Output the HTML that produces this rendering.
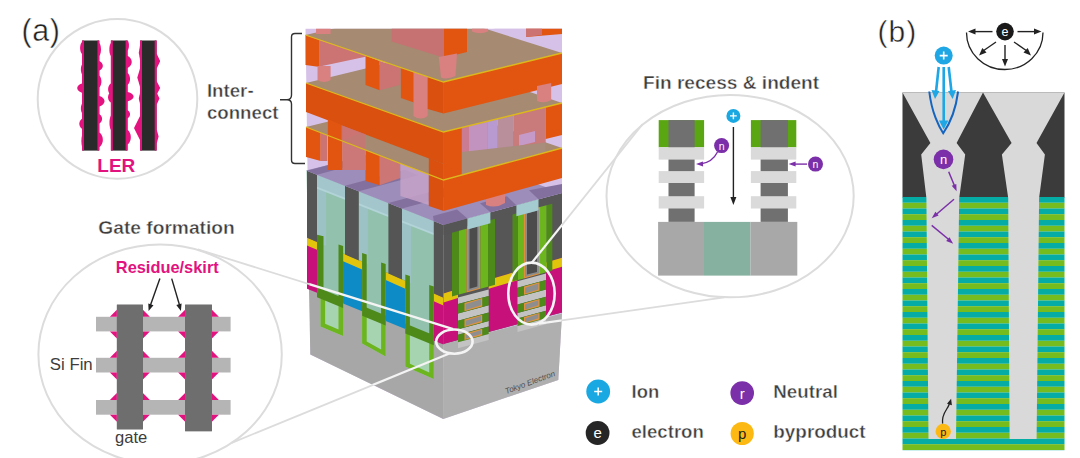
<!DOCTYPE html>
<html><head><meta charset="utf-8"><style>
html,body{margin:0;padding:0;background:#fff;}
svg{display:block;font-family:"Liberation Sans",sans-serif;}
</style></head><body>
<svg width="1080" height="458" viewBox="0 0 1080 458">
<rect width="1080" height="458" fill="#fff"/>
<clipPath id="blk"><rect x="300" y="28.8" width="270" height="400"/></clipPath>
<g clip-path="url(#blk)">
<polygon points="305.5,28.0 562.0,28.0 562.0,313.5 558.3,380.0 443.2,419.0 310.3,354.4 310.3,330.0 307.5,170.0" fill="#d6c2e8" />
<polygon points="306.5,170.6 443.5,224.9 443.5,344.0 309.0,289.0" fill="#92c2ae" />
<polygon points="317.0,174.8 326.0,178.3 326.0,245.8 317.0,241.8" fill="#9cc2c6" />
<polygon points="317.0,174.8 345.0,185.8 345.0,198.8 317.0,187.8" fill="#a2c6cc" />
<polygon points="317.0,186.8 345.0,197.8 345.0,199.8 317.0,188.8" fill="#b2d4d8" />
<polygon points="358.8,191.3 367.8,194.9 367.8,264.2 358.8,260.2" fill="#9cc2c6" />
<polygon points="358.8,191.3 388.4,203.0 388.4,216.0 358.8,204.3" fill="#a2c6cc" />
<polygon points="358.8,203.3 388.4,215.0 388.4,217.0 358.8,205.3" fill="#b2d4d8" />
<polygon points="402.0,208.4 411.0,212.0 411.0,283.2 402.0,279.2" fill="#9cc2c6" />
<polygon points="402.0,208.4 433.8,221.0 433.8,234.0 402.0,221.4" fill="#a2c6cc" />
<polygon points="402.0,220.4 433.8,233.0 433.8,235.0 402.0,222.4" fill="#b2d4d8" />
<polygon points="443.5,225.0 562.0,193.0 562.0,312.4 443.5,344.0" fill="#565656" />
<polygon points="309.0,288.5 443.5,343.6 443.3,419.0 310.3,354.4" fill="#a7a7a7" />
<polygon points="443.5,344.0 562.0,313.5 558.3,380.0 443.2,419.0" fill="#afafaf" />
<polygon points="307.0,237.4 317.0,241.8 317.0,292.8 307.0,288.7" fill="#c8107b" />
<polygon points="307.0,237.4 317.0,241.8 317.0,249.8 307.0,245.4" fill="#e2c40c" />
<polygon points="343.1,253.3 362.1,261.6 362.1,311.3 343.1,303.5" fill="#0d8bc6" />
<polygon points="343.1,253.3 362.1,261.6 362.1,269.6 343.1,261.3" fill="#e2c40c" />
<polygon points="385.7,272.0 405.3,280.7 405.3,329.0 385.7,320.9" fill="#0d8bc6" />
<polygon points="385.7,272.0 405.3,280.7 405.3,288.7 385.7,280.0" fill="#e2c40c" />
<polygon points="433.8,293.2 443.5,297.5 443.5,344.6 433.8,340.7" fill="#c8107b" />
<polygon points="433.8,293.2 443.5,297.5 443.5,305.5 433.8,301.2" fill="#e2c40c" />
<clipPath id="belowL"><polygon points="300,284.8 450,346.3 450,430 300,430"/></clipPath>
<clipPath id="aboveL"><polygon points="300,284.8 450,346.3 450,150 300,150"/></clipPath>
<g clip-path="url(#belowL)">
<polygon points="320.5,293.2 343.1,302.5 343.1,335.9 320.5,326.5" fill="#a6d3b0" />
<polygon points="320.5,234.8 325.1,236.3 325.1,323.8 338.5,329.4 338.5,244.6 343.1,246.1 343.1,335.9 320.5,326.5" fill="#6cb51f" />
<polygon points="362.1,310.3 385.7,319.9 385.7,356.6 362.1,343.5" fill="#a6d3b0" />
<polygon points="362.1,253.0 366.7,254.5 366.7,341.5 381.1,349.4 381.1,262.6 385.7,264.1 385.7,356.6 362.1,343.5" fill="#6cb51f" />
<polygon points="405.3,328.0 433.8,339.7 433.8,379.0 405.3,366.4" fill="#a6d3b0" />
<polygon points="405.3,274.4 409.9,275.9 409.9,363.8 429.2,372.4 429.2,285.0 433.8,286.5 433.8,379.0 405.3,366.4" fill="#6cb51f" />
</g>
<g clip-path="url(#aboveL)">
<polygon points="317.0,234.8 323.5,236.3 323.5,323.1 338.5,329.4 338.5,244.6 343.1,246.1 343.1,335.9 317.0,325.0" fill="#4e8a1a" />
<polygon points="362.1,253.0 366.7,254.5 366.7,341.5 381.1,349.4 381.1,262.6 385.7,264.1 385.7,356.6 362.1,343.5" fill="#4e8a1a" />
<polygon points="405.3,274.4 409.9,275.9 409.9,363.8 429.2,372.4 429.2,285.0 433.8,286.5 433.8,379.0 405.3,366.4" fill="#4e8a1a" />
</g>
<polygon points="317.0,287.3 343.1,298.0 343.1,308.0 317.0,297.3" fill="#4e8a1a" />
<polygon points="362.1,305.8 385.7,315.4 385.7,325.4 362.1,315.8" fill="#4e8a1a" />
<polygon points="405.3,323.5 433.8,335.2 433.8,345.2 405.3,333.5" fill="#4e8a1a" />
<polygon points="307.0,170.8 317.0,174.8 317.0,242.1 307.0,237.7" fill="#555555" />
<polygon points="345.0,185.8 358.8,191.3 358.8,260.5 345.0,254.4" fill="#555555" />
<polygon points="388.4,203.0 402.0,208.4 402.0,279.5 388.4,273.5" fill="#555555" />
<polygon points="433.8,221.0 443.5,224.9 443.5,297.8 433.8,293.5" fill="#555555" />
<polygon points="443.5,293.4 458.0,289.0 458.0,340.1 443.5,344.0" fill="#c8107b" />
<polygon points="443.5,293.4 458.0,289.0 458.0,298.0 443.5,302.4" fill="#e2c40c" />
<polygon points="488.7,279.8 517.5,271.2 517.5,324.2 488.7,331.9" fill="#c8107b" />
<polygon points="488.7,279.8 517.5,271.2 517.5,280.2 488.7,288.8" fill="#e2c40c" />
<polygon points="546.0,262.6 562.0,257.8 562.0,312.4 546.0,316.6" fill="#c8107b" />
<polygon points="546.0,262.6 562.0,257.8 562.0,266.8 546.0,271.6" fill="#e2c40c" />
<polygon points="452.0,230.4 459.0,228.5 459.0,294.5 452.0,296.4" fill="#4e8a1a" />
<polygon points="459.0,228.5 466.5,226.5 466.5,292.5 459.0,294.5" fill="#6cb51f" />
<polygon points="466.5,226.5 480.4,222.7 480.4,288.7 466.5,292.5" fill="#e0903a" />
<polygon points="488.0,220.7 495.0,218.8 495.0,284.8 488.0,286.7" fill="#4e8a1a" />
<polygon points="480.4,222.7 488.0,220.7 488.0,286.7 480.4,288.7" fill="#6cb51f" />
<polygon points="467.5,227.2 479.4,224.0 479.4,288.0 467.5,291.2" fill="#8c8c8c" />
<polygon points="469.5,228.7 477.4,226.5 477.4,286.5 469.5,288.7" fill="#4c4c4c" />
<polygon points="512.5,214.4 518.0,212.9 518.0,280.0 512.5,281.5" fill="#4e8a1a" />
<polygon points="518.0,212.9 524.0,211.3 524.0,278.4 518.0,280.0" fill="#6cb51f" />
<polygon points="524.0,211.3 540.0,207.0 540.0,274.1 524.0,278.4" fill="#e0903a" />
<polygon points="546.5,205.2 552.3,203.7 552.3,270.8 546.5,272.3" fill="#4e8a1a" />
<polygon points="540.0,207.0 546.5,205.2 546.5,272.3 540.0,274.1" fill="#6cb51f" />
<polygon points="525.0,212.0 539.0,208.2 539.0,273.3 525.0,277.1" fill="#8c8c8c" />
<polygon points="527.0,213.5 537.0,210.8 537.0,271.9 527.0,274.6" fill="#4c4c4c" />
<polygon points="458.0,297.6 488.7,289.4 488.7,295.9 458.0,304.1" fill="#c3c3c3" />
<polygon points="458.0,313.4 488.7,305.2 488.7,312.6 458.0,320.8" fill="#c3c3c3" />
<polygon points="458.0,329.2 488.7,321.0 488.7,326.5 458.0,334.7" fill="#c3c3c3" />
<polygon points="458.0,342.2 488.7,334.0 488.7,340.0 458.0,348.2" fill="#c3c3c3" />
<polygon points="458.0,304.1 488.7,295.9 488.7,305.2 458.0,313.4" fill="#4e8a1a" />
<polygon points="464.5,302.9 482.2,298.1 482.2,306.4 464.5,311.2" fill="#e39040" />
<polygon points="465.7,304.1 481.0,299.3 481.0,305.2 465.7,310.0" fill="#8e8e8e" />
<polygon points="458.0,320.8 488.7,312.6 488.7,321.0 458.0,329.2" fill="#4e8a1a" />
<polygon points="464.5,319.6 482.2,314.8 482.2,322.2 464.5,327.0" fill="#e39040" />
<polygon points="465.7,320.8 481.0,316.0 481.0,321.0 465.7,325.8" fill="#8e8e8e" />
<polygon points="458.0,334.7 488.7,326.5 488.7,334.0 458.0,342.2" fill="#4e8a1a" />
<polygon points="464.5,333.5 482.2,328.7 482.2,335.2 464.5,340.0" fill="#e39040" />
<polygon points="465.7,334.7 481.0,329.9 481.0,334.0 465.7,338.8" fill="#8e8e8e" />
<polygon points="517.5,281.3 546.0,273.6 546.0,280.1 517.5,287.8" fill="#c3c3c3" />
<polygon points="517.5,297.1 546.0,289.4 546.0,296.8 517.5,304.5" fill="#c3c3c3" />
<polygon points="517.5,312.9 546.0,305.2 546.0,310.7 517.5,318.4" fill="#c3c3c3" />
<polygon points="517.5,325.9 546.0,318.2 546.0,324.2 517.5,331.9" fill="#c3c3c3" />
<polygon points="517.5,287.8 546.0,280.1 546.0,289.4 517.5,297.1" fill="#4e8a1a" />
<polygon points="524.0,286.5 539.5,282.3 539.5,290.6 524.0,294.8" fill="#e39040" />
<polygon points="525.2,287.7 538.3,283.5 538.3,289.4 525.2,293.6" fill="#8e8e8e" />
<polygon points="517.5,304.5 546.0,296.8 546.0,305.2 517.5,312.9" fill="#4e8a1a" />
<polygon points="524.0,303.2 539.5,299.0 539.5,306.4 524.0,310.6" fill="#e39040" />
<polygon points="525.2,304.4 538.3,300.2 538.3,305.2 525.2,309.4" fill="#8e8e8e" />
<polygon points="517.5,318.4 546.0,310.7 546.0,318.2 517.5,325.9" fill="#4e8a1a" />
<polygon points="524.0,317.1 539.5,312.9 539.5,319.4 524.0,323.6" fill="#e39040" />
<polygon points="525.2,318.3 538.3,314.1 538.3,318.2 525.2,322.4" fill="#8e8e8e" />
<polygon points="306.0,170.4 420.0,142.0 562.0,193.0 443.5,225.0" fill="#9d8dba" />
<polygon points="307.0,170.8 317.0,174.8 377.0,158.8 367.0,154.8" fill="#83709e" />
<polygon points="345.0,185.8 358.8,191.3 418.8,175.3 405.0,169.8" fill="#83709e" />
<polygon points="388.4,203.0 402.0,208.4 462.0,192.4 448.4,187.0" fill="#83709e" />
<polygon points="433.8,221.0 443.5,225.0 467.4,218.5 457.0,209.5 433.0,216.0" fill="#83709e" />
<polygon points="490.4,212.3 516.4,205.3 507.0,196.3 480.0,203.3" fill="#83709e" />
<polygon points="538.5,199.3 562.0,193.0 562.0,184.0 529.0,190.3" fill="#83709e" />
<polygon points="443.5,225.0 467.4,218.5 467.4,228.5 443.5,235.0" fill="#555555" />
<polygon points="467.4,218.5 490.4,212.3 490.4,223.3 467.4,229.5" fill="#a4cbcf" />
<polygon points="516.4,205.3 538.5,199.3 538.5,210.3 516.4,216.3" fill="#a4cbcf" />
<polygon points="306.0,127.0 419.7,99.0 562.0,148.0 443.5,180.0" fill="#a68a72" />
<polygon points="306.0,127.0 320.7,132.6 320.7,161.0 306.0,157.0" fill="#e15511" />
<polygon points="320.7,132.6 327.3,135.0 327.3,161.0 320.7,161.0" fill="#cc7373" />
<polygon points="365.5,150.0 379.7,155.5 379.7,185.3 365.5,181.0" fill="#e15511" />
<polygon points="379.7,155.5 400.4,163.5 400.4,178.0 379.7,185.3" fill="#cc7676" />
<polygon points="400.4,163.5 428.8,174.0 428.8,205.0 400.4,196.0" fill="#c7a2c9" opacity="0.85"/>
<polygon points="342.3,125.5 365.8,134.5 365.8,170.0 342.3,170.0" fill="#cc7878" />
<polygon points="342.3,140.5 359.3,133.3 365.8,135.5 365.8,150.5 342.3,141.5" fill="#a68a72" />
<polygon points="428.8,158.0 443.5,164.0 443.5,211.0 428.8,206.0" fill="#d9500f" />
<path d="M486,190 L505,186 V203 Q495.5,209 486,205 Z" fill="#d98080"/>
<polygon points="443.5,180.0 562.0,148.0 562.0,178.0 443.5,211.0" fill="#e15511" />
<polygon points="306.0,83.0 421.0,55.0 562.0,103.0 443.5,132.0" fill="#a68a72" />
<polygon points="461.7,127.5 469.0,125.8 469.0,155.0 461.7,155.0" fill="#c97c92" />
<polygon points="469.0,125.8 487.5,121.2 487.5,155.0 469.0,155.0" fill="#c393c0" />
<polygon points="487.5,121.2 497.7,118.7 497.7,163.0 487.5,163.0" fill="#b89ad0" />
<polygon points="497.7,118.7 513.4,114.9 513.4,160.0 497.7,160.0" fill="#b98f9c" />
<polygon points="513.4,114.9 545.7,107.0 545.7,146.0 513.4,146.0" fill="#c97a7a" />
<polygon points="519.0,135.0 535.0,131.0 535.0,142.0 519.0,146.0" fill="#c59ac8" />
<polygon points="461.7,152.0 545.7,142.5 545.7,152.4 461.7,175.1" fill="#a88c7c" />
<polygon points="443.5,132.0 461.7,127.6 461.7,175.4 443.5,180.0" fill="#e15511" />
<polygon points="545.7,107.0 562.0,103.0 562.0,135.0 545.7,139.0" fill="#e15511" />
<polygon points="306.0,83.0 443.5,132.0 443.5,164.0 306.0,112.0" fill="#d9500f" />
<polygon points="327.9,119.0 342.3,125.5 342.3,170.0 327.9,170.0" fill="#e15511" />
<polygon points="341.5,125.2 365.5,134.3 365.5,150.0 341.5,140.5" fill="#cc7373" opacity="0.8"/>
<polygon points="305.5,35.0 420.0,8.0 562.0,53.0 443.5,82.0" fill="#a68a72" />
<polygon points="493.0,28.0 562.0,28.0 562.0,51.0" fill="#d6c2e8" />
<polygon points="526.0,28.0 562.0,28.0 562.0,34.0 526.0,37.0" fill="#e15511" />
<polygon points="526.0,28.0 542.0,28.0 542.0,35.0 526.0,37.0" fill="#cc7272" />
<path d="M472,28 H488 V31.5 Q480,35 472,31.5 Z" fill="#d98080"/>
<polygon points="391.7,28.0 444.0,28.0 444.0,57.7 391.7,41.4" fill="#c77272" />
<polygon points="444.0,28.0 467.0,28.0 467.0,52.0 444.0,57.7" fill="#e15511" />
<path d="M438.7,57 L457,53.5 L455.5,76 Q447,80 441,77.5 Z" fill="#d98080"/>
<polygon points="316.0,28.0 330.6,28.0 330.6,34.0 316.0,34.0" fill="#d98080" />
<polygon points="305.5,35.0 319.7,40.0 319.7,67.0 305.5,65.0" fill="#e15511" />
<polygon points="319.7,40.0 365.5,55.6 365.5,56.7 319.7,66.5" fill="#cc7373" />
<path d="M317.5,66 H330.6 V80 Q324,84 317.5,80 Z" fill="#d98080"/>
<polygon points="365.5,55.6 379.7,60.9 379.7,90.3 365.5,85.0" fill="#e15511" />
<polygon points="379.7,60.9 400.4,68.0 400.4,84.8 379.7,90.3" fill="#cc7373" />
<polygon points="400.9,68.0 416.8,73.5 416.8,103.4 400.9,98.0" fill="#e15511" />
<path d="M413.5,72 L427.7,77 V116 Q420.6,121 413.5,116 Z" fill="#d98080"/>
<polygon points="427.7,77.0 443.5,82.0 443.5,113.5 427.7,109.0" fill="#d9500f" />
<polygon points="443.5,82.0 562.0,53.0 562.0,84.0 443.5,113.5" fill="#e15511" />
<path d="M537,86 L551.2,83 V100 Q544,104 537,101 Z" fill="#d98080"/>
<polyline points="305.5,35.0 443.5,82.0 562.0,53.0" fill="none" stroke="#dcb81c" stroke-width="1.3" />
<polyline points="306.0,83.0 443.5,132.0 562.0,103.0" fill="none" stroke="#dcb81c" stroke-width="1.3" />
<polyline points="306.0,127.0 443.5,180.0 562.0,148.0" fill="none" stroke="#dcb81c" stroke-width="1.3" />
</g><rect x="902.5" y="92.5" width="162.0" height="105.0" fill="#3b3b3b" />
<rect x="902.5" y="197.0" width="162.0" height="5.8" fill="#05aca6" />
<rect x="902.5" y="202.8" width="162.0" height="5.8" fill="#76bc1f" />
<rect x="902.5" y="208.5" width="162.0" height="5.8" fill="#05aca6" />
<rect x="902.5" y="214.2" width="162.0" height="5.8" fill="#76bc1f" />
<rect x="902.5" y="220.0" width="162.0" height="5.8" fill="#05aca6" />
<rect x="902.5" y="225.8" width="162.0" height="5.8" fill="#76bc1f" />
<rect x="902.5" y="231.5" width="162.0" height="5.8" fill="#05aca6" />
<rect x="902.5" y="237.2" width="162.0" height="5.8" fill="#76bc1f" />
<rect x="902.5" y="243.0" width="162.0" height="5.8" fill="#05aca6" />
<rect x="902.5" y="248.8" width="162.0" height="5.8" fill="#76bc1f" />
<rect x="902.5" y="254.5" width="162.0" height="5.8" fill="#05aca6" />
<rect x="902.5" y="260.2" width="162.0" height="5.8" fill="#76bc1f" />
<rect x="902.5" y="266.0" width="162.0" height="5.8" fill="#05aca6" />
<rect x="902.5" y="271.8" width="162.0" height="5.8" fill="#76bc1f" />
<rect x="902.5" y="277.5" width="162.0" height="5.8" fill="#05aca6" />
<rect x="902.5" y="283.2" width="162.0" height="5.8" fill="#76bc1f" />
<rect x="902.5" y="289.0" width="162.0" height="5.8" fill="#05aca6" />
<rect x="902.5" y="294.8" width="162.0" height="5.8" fill="#76bc1f" />
<rect x="902.5" y="300.5" width="162.0" height="5.8" fill="#05aca6" />
<rect x="902.5" y="306.2" width="162.0" height="5.8" fill="#76bc1f" />
<rect x="902.5" y="312.0" width="162.0" height="5.8" fill="#05aca6" />
<rect x="902.5" y="317.8" width="162.0" height="5.8" fill="#76bc1f" />
<rect x="902.5" y="323.5" width="162.0" height="5.8" fill="#05aca6" />
<rect x="902.5" y="329.2" width="162.0" height="5.8" fill="#76bc1f" />
<rect x="902.5" y="335.0" width="162.0" height="5.8" fill="#05aca6" />
<rect x="902.5" y="340.8" width="162.0" height="5.8" fill="#76bc1f" />
<rect x="902.5" y="346.5" width="162.0" height="5.8" fill="#05aca6" />
<rect x="902.5" y="352.2" width="162.0" height="5.8" fill="#76bc1f" />
<rect x="902.5" y="358.0" width="162.0" height="5.8" fill="#05aca6" />
<rect x="902.5" y="363.8" width="162.0" height="5.8" fill="#76bc1f" />
<rect x="902.5" y="369.5" width="162.0" height="5.8" fill="#05aca6" />
<rect x="902.5" y="375.2" width="162.0" height="5.8" fill="#76bc1f" />
<rect x="902.5" y="381.0" width="162.0" height="5.8" fill="#05aca6" />
<rect x="902.5" y="386.8" width="162.0" height="5.8" fill="#76bc1f" />
<rect x="902.5" y="392.5" width="162.0" height="5.8" fill="#05aca6" />
<rect x="902.5" y="398.2" width="162.0" height="5.8" fill="#76bc1f" />
<rect x="902.5" y="404.0" width="162.0" height="5.8" fill="#05aca6" />
<rect x="902.5" y="409.8" width="162.0" height="5.8" fill="#76bc1f" />
<rect x="902.5" y="415.5" width="162.0" height="5.8" fill="#05aca6" />
<rect x="902.5" y="421.2" width="162.0" height="5.8" fill="#76bc1f" />
<rect x="902.5" y="427.0" width="162.0" height="5.8" fill="#05aca6" />
<rect x="902.5" y="432.8" width="162.0" height="5.8" fill="#76bc1f" />
<rect x="902.5" y="438.5" width="162.0" height="5.8" fill="#05aca6" />
<rect x="902.5" y="444.2" width="162.0" height="5.8" fill="#76bc1f" />
<rect x="902.5" y="450.0" width="162.0" height="0.2" fill="#05aca6" />
<polygon points="902.5,92.5 983.0,92.5 956.6,143.0 965.2,154.6 959.2,198.0 956.0,439.0 928.5,439.0 926.4,198.0 921.2,154.6 930.4,143.0" fill="#d9d9d9" />
<polygon points="983.0,92.5 1064.5,92.5 1036.5,143.0 1044.9,154.6 1039.1,198.0 1036.6,439.0 1009.6,439.0 1008.2,198.0 1001.9,154.6 1011.6,143.0" fill="#d9d9d9" />
<g stroke="#1ea7e4" stroke-width="2.6" fill="none" stroke-linecap="butt">
<line x1="943.7" y1="67" x2="943.7" y2="122"/>
<line x1="938.7" y1="67" x2="936" y2="92"/>
<line x1="948.7" y1="67" x2="951.5" y2="92"/>
</g>
<polygon points="939.0,120.5 948.4,120.5 943.7,129.5" fill="#1ea7e4" />
<polygon points="931.5,90.0 939.5,91.0 935.0,99.0" fill="#1ea7e4" />
<polygon points="948.0,91.0 956.0,90.0 952.6,99.0" fill="#1ea7e4" />
<path d="M929.3,91.5 C931.5,112 939,127 943.2,133.2 C947.5,127 955.5,112 958.1,91.5" stroke="#1565c0" stroke-width="2" fill="none"/>
<circle cx="943.7" cy="55.6" r="9" fill="#1ea7e4"/>
<path d="M939.7,55.6 h8 M943.7,51.6 v8" stroke="#fff" stroke-width="1.6"/>
<path d="M966.5,32.5 A38.25,37 0 0 0 1043,32.5" stroke="#222" stroke-width="1.3" fill="none"/>
<circle cx="1005" cy="31.6" r="8.8" fill="#1a1a1a"/>
<text x="1005.0" y="35.8" font-size="12.50" font-weight="normal" fill="#fff" text-anchor="middle">e</text>
<g stroke="#222" stroke-width="1.4">
<line x1="992.5" y1="31.6" x2="973" y2="31.6"/>
<line x1="1017.5" y1="31.6" x2="1037" y2="31.6"/>
<line x1="996" y1="42" x2="983" y2="51"/>
<line x1="1005" y1="45" x2="1005" y2="61"/>
<line x1="1014" y1="42" x2="1027" y2="51"/>
</g>
<polygon points="968.0,31.6 975.5,28.6 975.5,34.6" fill="#222" />
<polygon points="1041.5,31.6 1034.0,34.6 1034.0,28.6" fill="#222" />
<polygon points="979.0,55.5 982.3,48.1 986.5,52.4" fill="#222" />
<polygon points="1005.0,66.5 1002.0,59.0 1008.0,59.0" fill="#222" />
<polygon points="1031.0,55.5 1023.5,52.4 1027.7,48.1" fill="#222" />
<circle cx="943.5" cy="159.4" r="9.8" fill="#7b2fa8"/>
<text x="943.5" y="163.8" font-size="13.00" font-weight="normal" fill="#fff" text-anchor="middle">n</text>
<g stroke="#7b2fa8" stroke-width="1.5">
<line x1="948.7" y1="171.7" x2="955" y2="187"/>
<line x1="954" y1="199.2" x2="935" y2="215.5"/>
<line x1="931.7" y1="225.4" x2="950" y2="240.5"/>
</g>
<polygon points="956.6,191.3 951.7,185.7 956.3,183.9" fill="#7b2fa8" />
<polygon points="931.7,218.3 935.4,211.8 938.6,215.6" fill="#7b2fa8" />
<polygon points="953.2,243.7 946.2,241.1 949.5,237.3" fill="#7b2fa8" />
<path d="M942.6,423.7 C941,412 950,408 949.5,402" stroke="#222" stroke-width="1.3" fill="none"/>
<polygon points="951.1,398.7 951.9,405.2 947.0,403.8" fill="#222" />
<circle cx="943.2" cy="431.4" r="7.7" fill="#fdb913"/>
<text x="943.2" y="435.5" font-size="11.00" font-weight="normal" fill="#222" text-anchor="middle">p</text>
<text x="877.5" y="41.5" font-size="30.00" font-weight="normal" fill="#222" letter-spacing="1" stroke="#fff" stroke-width="0.45" stroke-linejoin="round">(b)</text>
<circle cx="598.2" cy="391.5" r="11.9" fill="#1aa8e2"/>
<path d="M594.2,391.5 h8 M598.2,387.5 v8" stroke="#fff" stroke-width="1.5"/>
<circle cx="597.6" cy="433" r="11.9" fill="#262626"/>
<text x="597.6" y="438.3" font-size="15.00" font-weight="normal" fill="#fff" text-anchor="middle">e</text>
<circle cx="742.2" cy="393.1" r="11.8" fill="#7b2fa8"/>
<text x="742.2" y="398.5" font-size="15.00" font-weight="normal" fill="#fff" text-anchor="middle">r</text>
<circle cx="742.2" cy="433.5" r="11.6" fill="#fdb913"/>
<text x="742.2" y="438.5" font-size="15.00" font-weight="normal" fill="#222" text-anchor="middle">p</text>
<text x="631.5" y="397.9" font-size="18.50" font-weight="bold" fill="#3d3d3d" stroke="#fff" stroke-width="0.4" stroke-linejoin="round">Ion</text>
<text x="631.5" y="438.1" font-size="18.60" font-weight="bold" fill="#3d3d3d" stroke="#fff" stroke-width="0.4" stroke-linejoin="round">electron</text>
<text x="773.3" y="397.9" font-size="18.75" font-weight="bold" fill="#3d3d3d" stroke="#fff" stroke-width="0.4" stroke-linejoin="round">Neutral</text>
<text x="773.3" y="438.1" font-size="18.90" font-weight="bold" fill="#3d3d3d" stroke="#fff" stroke-width="0.4" stroke-linejoin="round">byproduct</text>
<text x="21.5" y="40.8" font-size="30.50" font-weight="normal" fill="#222" letter-spacing="0.6" stroke="#fff" stroke-width="0.45" stroke-linejoin="round">(a)</text>
<text x="206.9" y="96.6" font-size="18.70" font-weight="bold" fill="#3d3d3d" stroke="#fff" stroke-width="0.4" stroke-linejoin="round">Inter-</text>
<text x="206.9" y="118.9" font-size="18.70" font-weight="bold" fill="#3d3d3d" stroke="#fff" stroke-width="0.4" stroke-linejoin="round">connect</text>
<text x="98.3" y="234.1" font-size="19.20" font-weight="bold" fill="#3d3d3d" stroke="#fff" stroke-width="0.4" stroke-linejoin="round">Gate formation</text>
<text x="643.0" y="88.6" font-size="19.10" font-weight="bold" fill="#3d3d3d" stroke="#fff" stroke-width="0.4" stroke-linejoin="round">Fin recess &amp; indent</text>
<circle cx="117.5" cy="98.9" r="79.8" fill="none" stroke="#dcdcdc" stroke-width="2"/>
<text x="97.3" y="171.5" font-size="19.00" font-weight="bold" fill="#e2127f" >LER</text>
<path d="M302,33.5 H295 Q291.5,33.5 291.5,37 V95 Q291.5,99.7 287,99.7 H280 M287,99.7 Q291.5,99.7 291.5,104 V160 Q291.5,163.5 295,163.5 H305" stroke="#333" stroke-width="1.4" fill="none"/>
<ellipse cx="160.1" cy="354.2" rx="121.7" ry="109.7" fill="none" stroke="#dcdcdc" stroke-width="2"/>
<text x="115.8" y="273.0" font-size="16.40" font-weight="bold" fill="#e2127f" >Residue/skirt</text>
<rect x="96.0" y="316.8" width="134.6" height="14.6" fill="#b5b5b5" />
<rect x="96.0" y="357.8" width="134.6" height="14.7" fill="#b5b5b5" />
<rect x="96.0" y="400.0" width="134.6" height="14.7" fill="#b5b5b5" />
<rect x="116.9" y="304.7" width="26.0" height="124.6" fill="#6e6e6e" />
<rect x="185.1" y="304.7" width="26.8" height="126.5" fill="#6e6e6e" />
<text x="49.8" y="370.0" font-size="16.80" font-weight="normal" fill="#3d3d3d" >Si Fin</text>
<text x="115.0" y="443.2" font-size="16.60" font-weight="normal" fill="#3d3d3d" >gate</text>
<g stroke="#222" stroke-width="1.4">
<line x1="159.9" y1="278.6" x2="150.5" y2="305"/>
<line x1="171.7" y1="278.6" x2="179.5" y2="305"/>
</g>
<polygon points="148.6,310.9 148.3,303.4 153.5,305.2" fill="#222" />
<polygon points="180.9,310.9 176.3,304.9 181.6,303.4" fill="#222" />
<ellipse cx="730.1" cy="196.1" rx="123.6" ry="101.2" fill="none" stroke="#dcdcdc" stroke-width="2"/>
<rect x="658.7" y="120.1" width="45.4" height="27.2" fill="#5aa512" />
<rect x="668.5" y="120.1" width="26.1" height="27.2" fill="#707070" />
<rect x="668.5" y="147.3" width="26.1" height="74.6" fill="#707070" />
<rect x="658.7" y="147.3" width="45.4" height="12.3" fill="#dadada" />
<rect x="658.7" y="171.1" width="45.4" height="11.9" fill="#dadada" />
<rect x="658.7" y="196.2" width="45.4" height="12.3" fill="#dadada" />
<rect x="750.9" y="120.1" width="45.4" height="27.2" fill="#5aa512" />
<rect x="760.6" y="120.1" width="27.3" height="27.2" fill="#707070" />
<rect x="760.6" y="147.3" width="27.3" height="74.6" fill="#707070" />
<rect x="750.9" y="147.3" width="45.4" height="12.3" fill="#dadada" />
<rect x="750.9" y="171.1" width="45.4" height="11.9" fill="#dadada" />
<rect x="750.9" y="196.2" width="45.4" height="12.3" fill="#dadada" />
<rect x="658.1" y="221.9" width="45.9" height="53.7" fill="#a8a8a8" />
<rect x="704.0" y="221.9" width="46.5" height="53.7" fill="#86b0a0" />
<rect x="750.5" y="221.9" width="46.8" height="53.7" fill="#a8a8a8" />
<line x1="733.4" y1="127" x2="733.4" y2="198" stroke="#222" stroke-width="1.4"/>
<polygon points="733.4,205.0 730.4,197.0 736.4,197.0" fill="#222" />
<circle cx="733.4" cy="115.9" r="7" fill="#1aa8e2"/>
<path d="M730,115.9 h6.8 M733.4,112.5 v6.8" stroke="#fff" stroke-width="1.4"/>
<circle cx="721.6" cy="145.6" r="7.5" fill="#7b2fa8"/>
<text x="721.6" y="149.5" font-size="10.50" font-weight="normal" fill="#fff" text-anchor="middle">n</text>
<circle cx="815.5" cy="164.1" r="7.5" fill="#7b2fa8"/>
<text x="815.5" y="168.0" font-size="10.50" font-weight="normal" fill="#fff" text-anchor="middle">n</text>
<path d="M717.5,152 Q712,163 700,164" stroke="#7b2fa8" stroke-width="1.4" fill="none"/>
<polygon points="696.0,164.1 702.9,161.4 703.1,166.4" fill="#7b2fa8" />
<line x1="807" y1="164.1" x2="792" y2="164.1" stroke="#7b2fa8" stroke-width="1.4"/>
<polygon points="788.6,164.1 795.6,161.6 795.6,166.6" fill="#7b2fa8" />
<rect x="82.2" y="40.5" width="17.0" height="110.1" fill="#2a2a2a" />
<rect x="111.0" y="40.5" width="16.4" height="110.1" fill="#2a2a2a" />
<rect x="140.2" y="40.5" width="16.3" height="110.1" fill="#2a2a2a" />
<polygon points="82.0,40.5 82.0,41.0 82.0,41.5 82.0,42.0 81.6,42.5 81.3,43.0 81.0,43.5 80.8,44.0 80.6,44.5 80.5,45.0 80.4,45.5 80.3,46.0 80.2,46.5 80.2,47.0 80.1,47.5 80.1,48.0 80.1,48.5 80.2,49.0 80.2,49.5 80.3,50.0 80.4,50.5 80.5,51.0 80.6,51.5 80.8,52.0 81.0,52.5 81.3,53.0 81.6,53.5 82.0,54.0 82.0,54.5 82.0,55.0 82.0,55.5 82.0,56.0 82.0,56.5 82.0,57.0 82.0,57.5 82.0,58.0 82.0,58.5 82.0,59.0 82.0,59.5 82.0,60.0 82.0,60.5 82.0,61.0 82.0,61.5 82.0,62.0 82.0,62.5 82.0,63.0 82.0,63.5 82.0,64.0 82.0,64.5 81.8,65.0 81.5,65.5 81.4,66.0 81.2,66.5 81.1,67.0 81.0,67.5 81.0,68.0 80.9,68.5 80.9,69.0 80.9,69.5 80.9,70.0 80.9,70.5 81.0,71.0 81.1,71.5 81.2,72.0 81.3,72.5 81.4,73.0 81.6,73.5 81.9,74.0 82.0,74.5 82.0,75.0 82.0,75.5 82.0,76.0 82.0,76.5 82.0,77.0 82.0,77.5 82.0,78.0 82.0,78.5 82.0,79.0 82.0,79.5 82.0,80.0 82.0,80.5 82.0,81.0 82.0,81.5 82.0,82.0 82.0,82.5 82.0,83.0 82.0,83.5 80.5,84.0 79.6,84.5 79.0,85.0 78.4,85.5 78.0,86.0 77.7,86.5 77.4,87.0 77.3,87.5 77.3,88.0 77.3,88.5 77.4,89.0 77.6,89.5 77.9,90.0 78.3,90.5 78.8,91.0 79.5,91.5 80.3,92.0 81.5,92.5 82.0,93.0 82.0,93.5 82.0,94.0 82.0,94.5 82.0,95.0 82.0,95.5 82.0,96.0 82.0,96.5 82.0,97.0 82.0,97.5 82.0,98.0 82.0,98.5 82.0,99.0 82.0,99.5 82.0,100.0 82.0,100.5 82.0,101.0 82.0,101.5 82.0,102.0 82.0,102.5 82.0,103.0 82.0,103.5 81.9,104.0 81.6,104.5 81.4,105.0 81.3,105.5 81.2,106.0 81.0,106.5 81.0,107.0 80.9,107.5 80.9,108.0 80.9,108.5 80.9,109.0 80.9,109.5 81.0,110.0 81.1,110.5 81.2,111.0 81.3,111.5 81.5,112.0 81.7,112.5 82.0,113.0 82.0,113.5 82.0,114.0 82.0,114.5 82.0,115.0 82.0,115.5 82.0,116.0 82.0,116.5 82.0,117.0 82.0,117.5 82.0,118.0 82.0,118.5 81.8,119.0 81.1,119.5 80.7,120.0 80.3,120.5 80.0,121.0 79.8,121.5 79.6,122.0 79.5,122.5 79.4,123.0 79.3,123.5 79.3,124.0 79.4,124.5 79.5,125.0 79.6,125.5 79.8,126.0 80.0,126.5 80.3,127.0 80.6,127.5 81.0,128.0 81.7,128.5 82.0,129.0 82.0,129.5 82.0,130.0 82.0,130.5 82.0,131.0 82.0,131.5 82.0,132.0 82.0,132.5 82.0,133.0 82.0,133.5 82.0,134.0 82.0,134.5 82.0,135.0 82.0,135.5 81.9,136.0 81.8,136.5 81.7,137.0 81.6,137.5 81.6,138.0 81.5,138.5 81.5,139.0 81.5,139.5 81.4,140.0 81.4,140.5 81.4,141.0 81.4,141.5 81.4,142.0 81.5,142.5 81.5,143.0 81.5,143.5 81.6,144.0 81.6,144.5 81.7,145.0 81.8,145.5 81.9,146.0 82.0,146.5 82.0,147.0 82.0,147.5 82.0,148.0 82.0,148.5 82.0,149.0 82.0,149.5 82.0,150.0 82.0,150.5 84.0,150.6 84.0,40.5" fill="#e2127f" />
<polygon points="99.4,40.5 99.4,41.0 99.4,41.5 99.4,42.0 99.4,42.5 99.4,43.0 99.7,43.5 100.0,44.0 100.2,44.5 100.3,45.0 100.5,45.5 100.6,46.0 100.7,46.5 100.8,47.0 100.8,47.5 100.9,48.0 100.9,48.5 101.0,49.0 101.0,49.5 101.0,50.0 100.9,50.5 100.9,51.0 100.8,51.5 100.8,52.0 100.7,52.5 100.6,53.0 100.4,53.5 100.3,54.0 100.1,54.5 99.9,55.0 99.7,55.5 99.4,56.0 99.4,56.5 99.4,57.0 99.4,57.5 99.4,58.0 99.4,58.5 99.4,59.0 99.4,59.5 99.4,60.0 99.4,60.5 99.4,61.0 100.1,61.5 100.9,62.0 101.4,62.5 101.8,63.0 102.1,63.5 102.4,64.0 102.6,64.5 102.7,65.0 102.8,65.5 102.8,66.0 102.8,66.5 102.6,67.0 102.5,67.5 102.2,68.0 101.9,68.5 101.5,69.0 101.0,69.5 100.3,70.0 99.4,70.5 99.4,71.0 99.4,71.5 99.4,72.0 99.4,72.5 99.4,73.0 99.4,73.5 99.4,74.0 99.4,74.5 99.4,75.0 99.4,75.5 99.8,76.0 100.1,76.5 100.4,77.0 100.6,77.5 100.8,78.0 101.0,78.5 101.1,79.0 101.2,79.5 101.3,80.0 101.4,80.5 101.4,81.0 101.4,81.5 101.4,82.0 101.4,82.5 101.3,83.0 101.2,83.5 101.1,84.0 101.0,84.5 100.8,85.0 100.6,85.5 100.4,86.0 100.1,86.5 99.8,87.0 99.4,87.5 99.4,88.0 99.4,88.5 99.4,89.0 99.4,89.5 99.4,90.0 99.4,90.5 99.4,91.0 99.4,91.5 99.4,92.0 99.4,92.5 99.4,93.0 99.4,93.5 99.4,94.0 99.4,94.5 99.4,95.0 99.4,95.5 99.4,96.0 100.9,96.5 101.8,97.0 102.4,97.5 103.0,98.0 103.4,98.5 103.8,99.0 104.1,99.5 104.3,100.0 104.4,100.5 104.5,101.0 104.5,101.5 104.4,102.0 104.2,102.5 104.0,103.0 103.7,103.5 103.3,104.0 102.9,104.5 102.3,105.0 101.6,105.5 100.7,106.0 99.4,106.5 99.4,107.0 99.4,107.5 99.4,108.0 99.4,108.5 99.4,109.0 99.4,109.5 99.4,110.0 99.4,110.5 99.4,111.0 99.4,111.5 99.4,112.0 99.4,112.5 99.4,113.0 99.4,113.5 99.4,114.0 99.8,114.5 100.4,115.0 100.9,115.5 101.2,116.0 101.5,116.5 101.7,117.0 101.9,117.5 102.0,118.0 102.0,118.5 102.1,119.0 102.0,119.5 101.9,120.0 101.8,120.5 101.6,121.0 101.3,121.5 101.0,122.0 100.6,122.5 100.1,123.0 99.4,123.5 99.4,124.0 99.4,124.5 99.4,125.0 99.4,125.5 99.4,126.0 99.4,126.5 99.4,127.0 99.4,127.5 99.4,128.0 99.4,128.5 99.4,129.0 99.4,129.5 99.4,130.0 99.4,130.5 99.4,131.0 99.4,131.5 99.4,132.0 99.4,132.5 100.0,133.0 100.6,133.5 101.0,134.0 101.3,134.5 101.6,135.0 101.8,135.5 102.1,136.0 102.3,136.5 102.4,137.0 102.6,137.5 102.7,138.0 102.7,138.5 102.8,139.0 102.8,139.5 102.8,140.0 102.8,140.5 102.8,141.0 102.7,141.5 102.6,142.0 102.4,142.5 102.3,143.0 102.1,143.5 101.9,144.0 101.6,144.5 101.4,145.0 101.0,145.5 100.6,146.0 100.2,146.5 99.4,147.0 99.4,147.5 99.4,148.0 99.4,148.5 99.4,149.0 99.4,149.5 99.4,150.0 99.4,150.5 97.4,150.6 97.4,40.5" fill="#e2127f" />
<polygon points="110.8,40.5 110.8,41.0 110.8,41.5 110.8,42.0 110.8,42.5 110.8,43.0 110.5,43.5 110.3,44.0 110.1,44.5 109.9,45.0 109.8,45.5 109.7,46.0 109.6,46.5 109.5,47.0 109.5,47.5 109.4,48.0 109.4,48.5 109.4,49.0 109.4,49.5 109.4,50.0 109.4,50.5 109.4,51.0 109.5,51.5 109.5,52.0 109.6,52.5 109.7,53.0 109.8,53.5 110.0,54.0 110.1,54.5 110.3,55.0 110.5,55.5 110.8,56.0 110.8,56.5 110.8,57.0 110.8,57.5 110.8,58.0 110.8,58.5 110.8,59.0 110.8,59.5 110.8,60.0 110.8,60.5 110.8,61.0 110.8,61.5 110.8,62.0 110.8,62.5 110.8,63.0 110.8,63.5 110.8,64.0 110.8,64.5 110.8,65.0 110.8,65.5 110.8,66.0 110.8,66.5 110.8,67.0 110.8,67.5 110.8,68.0 110.8,68.5 110.8,69.0 110.8,69.5 110.8,70.0 110.8,70.5 110.8,71.0 110.8,71.5 110.8,72.0 110.8,72.5 110.8,73.0 110.8,73.5 110.8,74.0 110.8,74.5 110.8,75.0 110.8,75.5 110.8,76.0 110.8,76.5 110.8,77.0 110.8,77.5 110.8,78.0 110.8,78.5 110.8,79.0 110.8,79.5 110.8,80.0 110.8,80.5 110.8,81.0 110.8,81.5 110.8,82.0 110.8,82.5 110.8,83.0 110.8,83.5 110.1,84.0 109.7,84.5 109.4,85.0 109.1,85.5 108.8,86.0 108.6,86.5 108.5,87.0 108.3,87.5 108.2,88.0 108.2,88.5 108.1,89.0 108.1,89.5 108.2,90.0 108.2,90.5 108.3,91.0 108.5,91.5 108.6,92.0 108.8,92.5 109.1,93.0 109.2,93.5 108.9,94.0 108.6,94.5 108.4,95.0 108.3,95.5 108.2,96.0 108.1,96.5 108.0,97.0 108.0,97.5 108.1,98.0 108.2,98.5 108.3,99.0 108.4,99.5 108.6,100.0 108.9,100.5 109.2,101.0 109.6,101.5 110.1,102.0 110.8,102.5 110.8,103.0 110.8,103.5 110.8,104.0 110.8,104.5 110.8,105.0 110.8,105.5 110.8,106.0 110.8,106.5 110.8,107.0 110.8,107.5 110.8,108.0 110.8,108.5 110.8,109.0 110.8,109.5 110.8,110.0 110.8,110.5 110.8,111.0 110.8,111.5 110.8,112.0 110.8,112.5 110.8,113.0 110.8,113.5 110.8,114.0 110.8,114.5 110.8,115.0 110.8,115.5 110.6,116.0 110.4,116.5 110.3,117.0 110.1,117.5 110.0,118.0 109.9,118.5 109.8,119.0 109.7,119.5 109.6,120.0 109.6,120.5 109.5,121.0 109.5,121.5 109.5,122.0 109.5,122.5 109.5,123.0 109.5,123.5 109.5,124.0 109.5,124.5 109.6,125.0 109.6,125.5 109.7,126.0 109.8,126.5 109.9,127.0 110.0,127.5 110.1,128.0 110.2,128.5 110.4,129.0 110.6,129.5 110.8,130.0 110.8,130.5 110.8,131.0 110.8,131.5 110.8,132.0 110.8,132.5 110.8,133.0 110.8,133.5 110.8,134.0 110.8,134.5 110.8,135.0 110.8,135.5 110.8,136.0 110.8,136.5 110.8,137.0 110.8,137.5 110.8,138.0 110.8,138.5 110.8,139.0 110.8,139.5 110.8,140.0 110.8,140.5 110.8,141.0 110.8,141.5 110.8,142.0 110.8,142.5 110.8,143.0 110.8,143.5 110.8,144.0 110.8,144.5 110.8,145.0 110.8,145.5 110.8,146.0 110.8,146.5 110.8,147.0 110.8,147.5 110.8,148.0 110.8,148.5 110.8,149.0 110.8,149.5 110.8,150.0 110.8,150.5 112.8,150.6 112.8,40.5" fill="#e2127f" />
<polygon points="127.8,40.5 128.0,41.0 128.3,41.5 128.4,42.0 128.6,42.5 128.7,43.0 128.8,43.5 128.9,44.0 128.9,44.5 128.9,45.0 128.9,45.5 128.9,46.0 128.9,46.5 128.8,47.0 128.8,47.5 128.7,48.0 128.5,48.5 128.4,49.0 128.2,49.5 128.0,50.0 127.7,50.5 127.6,51.0 127.6,51.5 127.6,52.0 127.6,52.5 127.6,53.0 127.6,53.5 127.6,54.0 127.6,54.5 127.6,55.0 127.6,55.5 127.6,56.0 128.7,56.5 129.3,57.0 129.8,57.5 130.3,58.0 130.6,58.5 130.9,59.0 131.2,59.5 131.4,60.0 131.5,60.5 131.6,61.0 131.7,61.5 131.7,62.0 131.7,62.5 131.6,63.0 131.5,63.5 131.3,64.0 131.1,64.5 130.8,65.0 130.5,65.5 130.1,66.0 129.6,66.5 129.1,67.0 128.3,67.5 127.6,68.0 127.6,68.5 127.6,69.0 127.6,69.5 127.6,70.0 127.6,70.5 127.6,71.0 127.6,71.5 127.6,72.0 127.6,72.5 127.6,73.0 128.2,73.5 128.6,74.0 128.9,74.5 129.2,75.0 129.4,75.5 129.6,76.0 129.7,76.5 129.8,77.0 129.9,77.5 130.0,78.0 130.0,78.5 130.0,79.0 130.0,79.5 130.0,80.0 129.9,80.5 129.8,81.0 129.7,81.5 129.5,82.0 129.3,82.5 129.1,83.0 128.8,83.5 128.4,84.0 128.0,84.5 127.6,85.0 127.6,85.5 127.6,86.0 127.6,86.5 127.6,87.0 127.6,87.5 127.6,88.0 127.6,88.5 127.6,89.0 127.6,89.5 127.6,90.0 127.6,90.5 127.6,91.0 127.6,91.5 127.6,92.0 129.5,92.5 130.6,93.0 131.4,93.5 132.1,94.0 132.6,94.5 133.0,95.0 133.3,95.5 133.5,96.0 133.6,96.5 133.5,97.0 133.4,97.5 133.1,98.0 132.8,98.5 132.3,99.0 131.7,99.5 130.9,100.0 130.0,100.5 128.6,101.0 127.6,101.5 127.6,102.0 127.6,102.5 127.6,103.0 127.6,103.5 127.6,104.0 127.6,104.5 127.6,105.0 127.6,105.5 127.6,106.0 127.6,106.5 127.6,107.0 127.6,107.5 127.6,108.0 127.6,108.5 127.6,109.0 127.6,109.5 127.6,110.0 128.0,110.5 128.6,111.0 129.1,111.5 129.4,112.0 129.7,112.5 129.8,113.0 130.0,113.5 130.0,114.0 130.0,114.5 130.0,115.0 129.8,115.5 129.7,116.0 129.4,116.5 129.1,117.0 128.6,117.5 128.0,118.0 127.6,118.5 127.6,119.0 127.6,119.5 127.6,120.0 127.6,120.5 127.6,121.0 127.6,121.5 127.6,122.0 127.6,122.5 127.6,123.0 127.6,123.5 127.6,124.0 127.6,124.5 127.6,125.0 127.6,125.5 127.6,126.0 127.6,126.5 127.6,127.0 127.6,127.5 127.6,128.0 127.6,128.5 127.6,129.0 127.6,129.5 127.6,130.0 128.3,130.5 128.8,131.0 129.1,131.5 129.4,132.0 129.7,132.5 129.9,133.0 130.1,133.5 130.3,134.0 130.5,134.5 130.6,135.0 130.7,135.5 130.7,136.0 130.8,136.5 130.8,137.0 130.8,137.5 130.8,138.0 130.7,138.5 130.7,139.0 130.6,139.5 130.4,140.0 130.3,140.5 130.1,141.0 129.9,141.5 129.6,142.0 129.4,142.5 129.1,143.0 128.7,143.5 128.2,144.0 127.6,144.5 127.6,145.0 127.6,145.5 127.6,146.0 127.6,146.5 127.6,147.0 127.6,147.5 127.6,148.0 127.6,148.5 127.6,149.0 127.6,149.5 127.6,150.0 127.6,150.5 125.6,150.6 125.6,40.5" fill="#e2127f" />
<polygon points="140.0,40.5 140.0,41.0 140.0,41.5 140.0,42.0 140.0,42.5 140.0,43.0 140.0,43.5 140.0,44.0 140.0,44.5 140.0,45.0 140.0,45.5 139.9,46.0 139.8,46.5 139.7,47.0 139.7,47.5 139.6,48.0 139.5,48.5 139.4,49.0 139.3,49.5 139.2,50.0 139.2,50.5 139.1,51.0 139.0,51.5 138.9,52.0 138.8,52.5 138.8,53.0 138.9,53.5 139.0,54.0 139.1,54.5 139.2,55.0 139.3,55.5 139.3,56.0 139.4,56.5 139.5,57.0 139.6,57.5 139.7,58.0 139.8,58.5 139.8,59.0 139.9,59.5 140.0,60.0 140.0,60.5 140.0,61.0 140.0,61.5 140.0,62.0 140.0,62.5 140.0,63.0 140.0,63.5 140.0,64.0 140.0,64.5 140.0,65.0 140.0,65.5 140.0,66.0 140.0,66.5 140.0,67.0 140.0,67.5 140.0,68.0 140.0,68.5 139.8,69.0 139.7,69.5 139.5,70.0 139.4,70.5 139.3,71.0 139.1,71.5 139.0,72.0 138.8,72.5 138.7,73.0 138.5,73.5 138.4,74.0 138.2,74.5 138.1,75.0 137.9,75.5 137.8,76.0 137.6,76.5 137.5,77.0 137.3,77.5 137.4,78.0 137.6,78.5 137.7,79.0 137.9,79.5 138.0,80.0 138.2,80.5 138.3,81.0 138.5,81.5 138.6,82.0 138.8,82.5 138.9,83.0 139.0,83.5 139.2,84.0 139.3,84.5 139.5,85.0 139.6,85.5 139.8,86.0 139.9,86.5 140.0,87.0 140.0,87.5 140.0,88.0 140.0,88.5 140.0,89.0 140.0,89.5 140.0,90.0 140.0,90.5 140.0,91.0 140.0,91.5 140.0,92.0 140.0,92.5 140.0,93.0 139.9,93.5 139.8,94.0 139.7,94.5 139.6,95.0 139.4,95.5 139.3,96.0 139.2,96.5 139.1,97.0 139.0,97.5 138.9,98.0 138.8,98.5 138.9,99.0 139.0,99.5 139.1,100.0 139.2,100.5 139.3,101.0 139.4,101.5 139.6,102.0 139.7,102.5 139.8,103.0 139.9,103.5 140.0,104.0 140.0,104.5 140.0,105.0 140.0,105.5 140.0,106.0 140.0,106.5 140.0,107.0 140.0,107.5 140.0,108.0 140.0,108.5 140.0,109.0 140.0,109.5 140.0,110.0 140.0,110.5 140.0,111.0 140.0,111.5 140.0,112.0 140.0,112.5 140.0,113.0 140.0,113.5 140.0,114.0 140.0,114.5 140.0,115.0 140.0,115.5 140.0,116.0 139.8,116.5 139.5,117.0 139.3,117.5 139.0,118.0 138.8,118.5 138.5,119.0 138.3,119.5 138.0,120.0 137.8,120.5 137.5,121.0 137.3,121.5 137.0,122.0 136.8,122.5 136.5,123.0 136.3,123.5 136.0,124.0 135.8,124.5 135.5,125.0 135.3,125.5 135.0,126.0 134.8,126.5 134.5,127.0 134.3,127.5 134.0,128.0 134.2,128.5 134.5,129.0 134.7,129.5 135.0,130.0 135.2,130.5 135.5,131.0 135.7,131.5 136.0,132.0 136.2,132.5 136.5,133.0 136.7,133.5 137.0,134.0 137.2,134.5 137.5,135.0 137.7,135.5 138.0,136.0 138.2,136.5 138.5,137.0 138.7,137.5 139.0,138.0 139.2,138.5 139.5,139.0 139.7,139.5 140.0,140.0 140.0,140.5 140.0,141.0 140.0,141.5 140.0,142.0 140.0,142.5 140.0,143.0 140.0,143.5 140.0,144.0 140.0,144.5 140.0,145.0 140.0,145.5 140.0,146.0 140.0,146.5 140.0,147.0 140.0,147.5 140.0,148.0 140.0,148.5 140.0,149.0 140.0,149.5 140.0,150.0 140.0,150.5 142.0,150.6 142.0,40.5" fill="#e2127f" />
<polygon points="156.7,40.5 156.7,41.0 156.7,41.5 156.7,42.0 156.7,42.5 156.7,43.0 156.7,43.5 156.7,44.0 156.7,44.5 156.7,45.0 156.7,45.5 156.7,46.0 156.7,46.5 156.7,47.0 156.7,47.5 156.7,48.0 156.7,48.5 156.7,49.0 156.7,49.5 156.7,50.0 156.7,50.5 156.7,51.0 156.7,51.5 156.7,52.0 156.7,52.5 156.7,53.0 156.7,53.5 156.8,54.0 157.1,54.5 157.3,55.0 157.5,55.5 157.8,56.0 158.0,56.5 158.2,57.0 158.5,57.5 158.7,58.0 159.0,58.5 159.2,59.0 159.4,59.5 159.7,60.0 159.9,60.5 160.1,61.0 160.0,61.5 159.8,62.0 159.6,62.5 159.3,63.0 159.1,63.5 158.9,64.0 158.6,64.5 158.4,65.0 158.1,65.5 157.9,66.0 157.7,66.5 157.4,67.0 157.2,67.5 157.0,68.0 156.7,68.5 156.7,69.0 156.7,69.5 156.7,70.0 156.7,70.5 156.7,71.0 156.7,71.5 156.7,72.0 156.7,72.5 156.7,73.0 156.7,73.5 156.7,74.0 156.7,74.5 156.7,75.0 156.7,75.5 156.7,76.0 156.7,76.5 156.7,77.0 156.7,77.5 156.7,78.0 156.7,78.5 156.7,79.0 156.7,79.5 156.7,80.0 156.7,80.5 156.7,81.0 156.8,81.5 157.1,82.0 157.3,82.5 157.6,83.0 157.9,83.5 158.1,84.0 158.4,84.5 158.7,85.0 158.9,85.5 159.2,86.0 159.4,86.5 159.7,87.0 160.0,87.5 160.2,88.0 159.9,88.5 159.6,89.0 159.4,89.5 159.1,90.0 158.9,90.5 158.6,91.0 158.3,91.5 158.1,92.0 157.8,92.5 157.5,93.0 157.3,93.5 157.4,94.0 157.7,94.5 157.9,95.0 158.1,95.5 158.3,96.0 158.6,96.5 158.8,97.0 159.0,97.5 159.3,98.0 159.5,98.5 159.3,99.0 159.0,99.5 158.8,100.0 158.6,100.5 158.3,101.0 158.1,101.5 157.9,102.0 157.7,102.5 157.4,103.0 157.2,103.5 157.0,104.0 156.7,104.5 156.7,105.0 156.7,105.5 156.7,106.0 156.7,106.5 156.7,107.0 156.7,107.5 156.7,108.0 156.7,108.5 156.7,109.0 156.7,109.5 156.7,110.0 156.7,110.5 156.7,111.0 156.7,111.5 156.7,112.0 156.7,112.5 156.7,113.0 156.7,113.5 156.7,114.0 156.7,114.5 156.7,115.0 156.7,115.5 156.7,116.0 156.7,116.5 156.7,117.0 156.7,117.5 156.7,118.0 156.7,118.5 156.7,119.0 156.7,119.5 156.7,120.0 156.7,120.5 156.7,121.0 156.7,121.5 156.7,122.0 156.7,122.5 156.7,123.0 156.7,123.5 156.7,124.0 156.7,124.5 156.7,125.0 156.7,125.5 156.7,126.0 156.7,126.5 156.7,127.0 156.7,127.5 156.7,128.0 156.7,128.5 156.7,129.0 156.7,129.5 156.8,130.0 157.0,130.5 157.1,131.0 157.2,131.5 157.4,132.0 157.5,132.5 157.7,133.0 157.8,133.5 157.9,134.0 158.1,134.5 158.2,135.0 158.3,135.5 158.5,136.0 158.6,136.5 158.5,137.0 158.3,137.5 158.2,138.0 158.1,138.5 157.9,139.0 157.8,139.5 157.7,140.0 157.5,140.5 157.4,141.0 157.3,141.5 157.1,142.0 157.0,142.5 156.9,143.0 156.7,143.5 156.7,144.0 156.7,144.5 156.7,145.0 156.7,145.5 156.7,146.0 156.7,146.5 156.7,147.0 156.7,147.5 156.7,148.0 156.7,148.5 156.7,149.0 156.7,149.5 156.7,150.0 156.7,150.5 154.7,150.6 154.7,40.5" fill="#e2127f" />
<polygon points="116.9,316.8 109.9,316.8 116.9,309.8" fill="#e2127f" />
<polygon points="142.9,316.8 149.9,316.8 142.9,309.8" fill="#e2127f" />
<polygon points="116.9,331.4 109.9,331.4 116.9,338.4" fill="#e2127f" />
<polygon points="142.9,331.4 149.9,331.4 142.9,338.4" fill="#e2127f" />
<polygon points="116.9,357.8 109.9,357.8 116.9,350.8" fill="#e2127f" />
<polygon points="142.9,357.8 149.9,357.8 142.9,350.8" fill="#e2127f" />
<polygon points="116.9,372.5 109.9,372.5 116.9,379.5" fill="#e2127f" />
<polygon points="142.9,372.5 149.9,372.5 142.9,379.5" fill="#e2127f" />
<polygon points="116.9,400.0 109.9,400.0 116.9,393.0" fill="#e2127f" />
<polygon points="142.9,400.0 149.9,400.0 142.9,393.0" fill="#e2127f" />
<polygon points="116.9,414.7 109.9,414.7 116.9,421.7" fill="#e2127f" />
<polygon points="142.9,414.7 149.9,414.7 142.9,421.7" fill="#e2127f" />
<polygon points="185.1,316.8 178.1,316.8 185.1,309.8" fill="#e2127f" />
<polygon points="211.9,316.8 218.9,316.8 211.9,309.8" fill="#e2127f" />
<polygon points="185.1,331.4 178.1,331.4 185.1,338.4" fill="#e2127f" />
<polygon points="211.9,331.4 218.9,331.4 211.9,338.4" fill="#e2127f" />
<polygon points="185.1,357.8 178.1,357.8 185.1,350.8" fill="#e2127f" />
<polygon points="211.9,357.8 218.9,357.8 211.9,350.8" fill="#e2127f" />
<polygon points="185.1,372.5 178.1,372.5 185.1,379.5" fill="#e2127f" />
<polygon points="211.9,372.5 218.9,372.5 211.9,379.5" fill="#e2127f" />
<polygon points="185.1,400.0 178.1,400.0 185.1,393.0" fill="#e2127f" />
<polygon points="211.9,400.0 218.9,400.0 211.9,393.0" fill="#e2127f" />
<polygon points="185.1,414.7 178.1,414.7 185.1,421.7" fill="#e2127f" />
<polygon points="211.9,414.7 218.9,414.7 211.9,421.7" fill="#e2127f" />
<rect x="116.9" y="304.7" width="26.0" height="124.6" fill="#6e6e6e" />
<rect x="185.1" y="304.7" width="26.8" height="126.5" fill="#6e6e6e" />
<clipPath id="offblk"><path d="M0,0 H1080 V458 H0 Z M305.5,28.8 L562,28.8 L562,313.5 L558.3,380 L443.2,419 L310.3,354.4 Z" clip-rule="evenodd"/></clipPath>
<clipPath id="onblk"><path d="M305.5,28.8 L562,28.8 L562,313.5 L558.3,380 L443.2,419 L310.3,354.4 Z"/></clipPath>
<g stroke="#dcdcdc" stroke-width="1.8" clip-path="url(#offblk)"><line x1="197.8" y1="249.3" x2="453.2" y2="329.1"/><line x1="231.8" y1="442.8" x2="450.6" y2="353.1"/><line x1="531.2" y1="263.5" x2="642.4" y2="124.4"/><line x1="538.9" y1="323.7" x2="724.3" y2="297.3"/></g>
<g stroke="#f4f4f4" stroke-width="2.2" clip-path="url(#onblk)"><line x1="197.8" y1="249.3" x2="453.2" y2="329.1"/><line x1="231.8" y1="442.8" x2="450.6" y2="353.1"/><line x1="531.2" y1="263.5" x2="642.4" y2="124.4"/><line x1="538.9" y1="323.7" x2="724.3" y2="297.3"/></g>
<ellipse cx="454.4" cy="341.6" rx="18.2" ry="12.1" fill="none" stroke="#f4f4f4" stroke-width="2.6"/>
<ellipse cx="531.5" cy="293.6" rx="23.2" ry="31" fill="none" stroke="#f4f4f4" stroke-width="2.6"/>
<text x="0" y="0" font-size="8" font-style="italic" fill="#505050" transform="translate(506.3,394) rotate(-20.4)">Tokyo Electron</text>
</svg></body></html>
